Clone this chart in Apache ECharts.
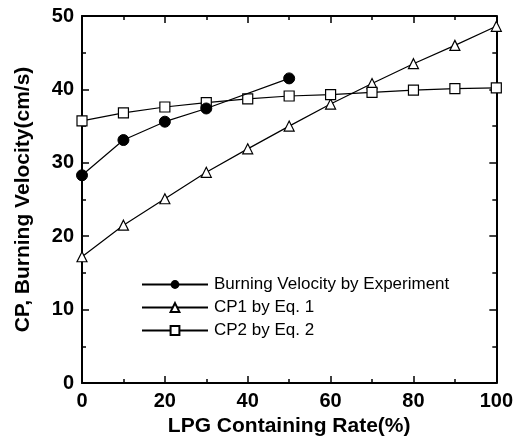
<!DOCTYPE html>
<html><head><meta charset="utf-8">
<script src="https://cdn.jsdelivr.net/npm/echarts@6/dist/echarts.min.js"></script>
<style>html,body{margin:0;padding:0;background:#fff}#c{width:516px;height:446px}</style>
</head><body><div id="c"></div>
<script>
const xValues = [0, 10, 20, 30, 40, 50, 60, 70, 80, 90, 100];
const expX = [0, 10, 20, 30, 50];
const burningVelocity = [28.3, 33.1, 35.6, 37.4, 41.5];
const cp1 = [17.2, 21.5, 25.1, 28.7, 31.9, 35.0, 38.0, 40.8, 43.5, 46.0, 48.6];
const cp2 = [35.7, 36.8, 37.6, 38.2, 38.7, 39.1, 39.3, 39.6, 39.9, 40.1, 40.2];
const seriesNames = ['Burning Velocity by Experiment', 'CP1 by Eq. 1', 'CP2 by Eq. 2'];
const xTitle = 'LPG Containing Rate(%)';
const yTitle = 'CP, Burning Velocity(cm/s)';

const chart = echarts.init(document.getElementById('c'));
const FONT = 'Liberation Sans, Arial, sans-serif';
const axisLine = {show: true, onZero: false, lineStyle: {color: '#000', width: 2}};
const tick = {show: true, inside: true, length: 7, lineStyle: {color: '#000', width: 1.5}};
const minor = {show: true, splitNumber: 2, length: 4, lineStyle: {color: '#000', width: 1.5}};
const lineStyle = {color: '#000', width: 1.2};
chart.setOption({
  animation: false,
  backgroundColor: '#fff',
  grid: {left: 82, right: 19, top: 16, bottom: 63},
  legend: {
    left: 136, top: 271, orient: 'vertical', itemWidth: 66, itemHeight: 11, itemGap: 6,
    textStyle: {fontFamily: FONT, fontSize: 17, color: '#000', padding: [0, 0, 0, 1], lineHeight: 17},
    data: seriesNames
  },
  xAxis: [
    {type: 'value', min: 0, max: 100, interval: 20, position: 'bottom',
     name: xTitle, nameLocation: 'middle', nameGap: 24,
     nameTextStyle: {fontFamily: FONT, fontSize: 21, fontWeight: 'bold', color: '#000'},
     axisLine, axisTick: tick, minorTick: minor, splitLine: {show: false},
     axisLabel: {fontFamily: FONT, fontSize: 20, fontWeight: 'bold', color: '#000', margin: 8}},
    {type: 'value', min: 0, max: 100, interval: 20, position: 'top',
     axisLine, axisTick: tick, minorTick: minor, splitLine: {show: false}, axisLabel: {show: false}}
  ],
  yAxis: [
    {type: 'value', min: 0, max: 50, interval: 10, position: 'left',
     name: yTitle, nameLocation: 'middle', nameGap: 48,
     nameTextStyle: {fontFamily: FONT, fontSize: 21, fontWeight: 'bold', color: '#000'},
     axisLine, axisTick: tick, minorTick: minor, splitLine: {show: false},
     axisLabel: {fontFamily: FONT, fontSize: 20, fontWeight: 'bold', color: '#000', margin: 8}},
    {type: 'value', min: 0, max: 50, interval: 10, position: 'right',
     axisLine, axisTick: tick, minorTick: minor, splitLine: {show: false}, axisLabel: {show: false}}
  ],
  series: [
    {name: seriesNames[0], type: 'line', data: expX.map((x, i) => [x, burningVelocity[i]]),
     symbol: 'circle', symbolSize: 11, lineStyle, itemStyle: {color: '#000', borderColor: '#000'}, z: 5},
    {name: seriesNames[1], type: 'line', data: xValues.map((x, i) => [x, cp1[i]]),
     symbol: 'triangle', symbolSize: 10, lineStyle, itemStyle: {color: '#fff', borderColor: '#000', borderWidth: 1.2}},
    {name: seriesNames[2], type: 'line', data: xValues.map((x, i) => [x, cp2[i]]),
     symbol: 'rect', symbolSize: 10, lineStyle, itemStyle: {color: '#fff', borderColor: '#000', borderWidth: 1.2}}
  ]
});
</script></body></html>
